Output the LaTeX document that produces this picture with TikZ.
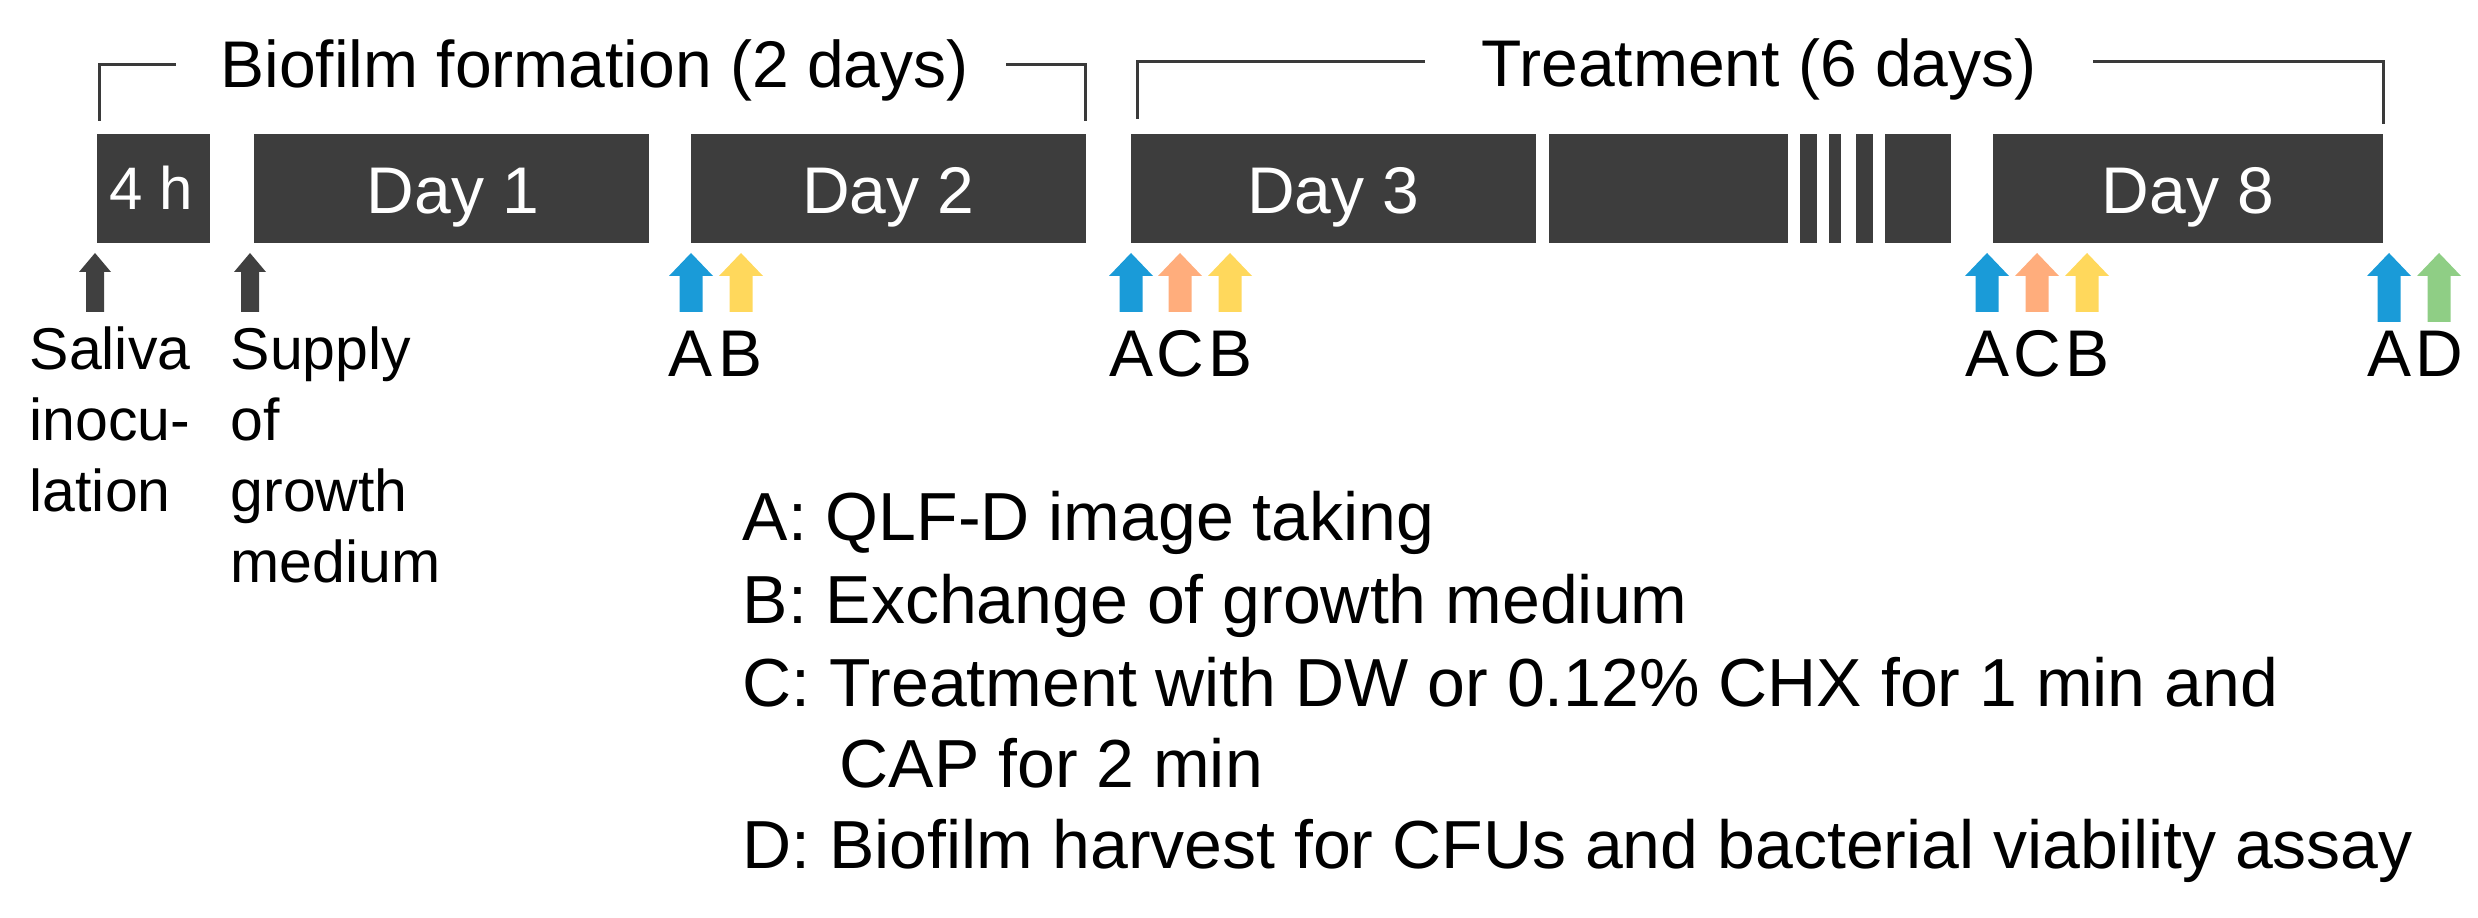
\documentclass[tikz,border=0pt]{standalone}
\usepackage{fontspec}
\setmainfont{Liberation Sans}
\definecolor{boxgray}{HTML}{3D3D3D}
\definecolor{arrgray}{HTML}{404040}
\definecolor{linegray}{HTML}{3A3A3A}
\definecolor{cblue}{HTML}{1A9BD8}
\definecolor{corange}{HTML}{FFAD7C}
\definecolor{cyellow}{HTML}{FFD85C}
\definecolor{cgreen}{HTML}{8FCE85}
\newcommand{\blkarrow}[1]{\fill[arrgray] (#1-9,312) -- (#1-9,272) -- (#1-16,272) -- (#1,253) -- (#1+16,272) -- (#1+9,272) -- (#1+9,312) -- cycle;}
\newcommand{\colarrow}[3]{\fill[#2] (#1-11.5,#3) -- (#1-11.5,276) -- (#1-22,276) -- (#1,253) -- (#1+22,276) -- (#1+11.5,276) -- (#1+11.5,#3) -- cycle;}
\begin{document}
\begin{tikzpicture}[x=0.3pt,y=-0.3pt,
  daybox/.style={fill=boxgray, draw=none, inner sep=0pt, minimum height=32.7pt},
  daylbl/.style={text=white, font=\fontsize{19.8}{24}\selectfont, inner sep=0pt, anchor=base},
  titlelbl/.style={font=\fontsize{19.8}{24}\selectfont, inner sep=0pt, anchor=base},
  evlbl/.style={font=\fontsize{19.8}{24}\selectfont, inner sep=0pt, anchor=base},
  sidelbl/.style={font=\fontsize{17.7}{21}\selectfont, inner sep=0pt, anchor=base west},
  legendlbl/.style={font=\fontsize{20.4}{24}\selectfont, inner sep=0pt, anchor=base west},
  bracket/.style={draw=linegray, line width=0.9pt}]
\useasboundingbox (0,0) rectangle (2478,918);

% brackets
\coordinate (b1a) at (99.5,121);
\coordinate (b1b) at (99.5,65);
\coordinate (b1c) at (176,65);
\coordinate (b1d) at (1006,65);
\coordinate (b1e) at (1085,65);
\coordinate (b1f) at (1085,121);
\draw[bracket] (b1a) -- (b1b) -- (b1c);
\draw[bracket] (b1d) -- (b1e) -- (b1f);
\node[titlelbl] (t1) at (594.5,88) {Biofilm formation (2 days)};
\coordinate (b2a) at (1137,119);
\coordinate (b2b) at (1137,62);
\coordinate (b2c) at (1425,62);
\coordinate (b2d) at (2093,62);
\coordinate (b2e) at (2383,62);
\coordinate (b2f) at (2383,124);
\draw[bracket] (b2a) -- (b2b) -- (b2c);
\draw[bracket] (b2d) -- (b2e) -- (b2f);
\node[titlelbl] (t2) at (1759,87) {Treatment (6 days)};

% boxes
\node[daybox, minimum width=113*0.3pt] (bx4h) at (153.5,188.5) {};
\node[daybox, minimum width=395*0.3pt] (bx1) at (451.5,188.5) {};
\node[daybox, minimum width=395*0.3pt] (bx2) at (888.5,188.5) {};
\node[daybox, minimum width=405*0.3pt] (bx3) at (1333.5,188.5) {};
\node[daybox, minimum width=239*0.3pt] (bxb) at (1668.5,188.5) {};
\node[daybox, minimum width=17*0.3pt] (bxs1) at (1808.5,188.5) {};
\node[daybox, minimum width=12*0.3pt] (bxs2) at (1835,188.5) {};
\node[daybox, minimum width=17*0.3pt] (bxs3) at (1864.5,188.5) {};
\node[daybox, minimum width=66*0.3pt] (bxs4) at (1918,188.5) {};
\node[daybox, minimum width=390*0.3pt] (bx8) at (2188,188.5) {};
\node[daylbl, font=\fontsize{18}{22}\selectfont] (l4h) at (151,210) {4 h};
\node[daylbl] (l1) at (453,214) {Day 1};
\node[daylbl] (l2) at (888.5,214) {Day 2};
\node[daylbl] (l3) at (1333.5,214) {Day 3};
\node[daylbl] (l8) at (2188,214) {Day 8};

% arrows
\blkarrow{95}
\blkarrow{250}
\colarrow{691}{cblue}{312}
\colarrow{741}{cyellow}{312}
\colarrow{1131}{cblue}{312}
\colarrow{1180}{corange}{312}
\colarrow{1230}{cyellow}{312}
\colarrow{1987}{cblue}{312}
\colarrow{2037}{corange}{312}
\colarrow{2087}{cyellow}{312}
\colarrow{2389}{cblue}{322}
\colarrow{2439}{cgreen}{322}

% event letters
\node[evlbl] (e1a) at (691,377) {A};
\node[evlbl] (e1b) at (741,377) {B};
\node[evlbl] (e2a) at (1131,377) {A};
\node[evlbl] (e2c) at (1180,377) {C};
\node[evlbl] (e2b) at (1230,377) {B};
\node[evlbl] (e3a) at (1987,377) {A};
\node[evlbl] (e3c) at (2037,377) {C};
\node[evlbl] (e3b) at (2087,377) {B};
\node[evlbl] (e4a) at (2389,377) {A};
\node[evlbl] (e4d) at (2439,377) {D};

% side labels
\node[sidelbl] (s1) at (29,370) {Saliva};
\node[sidelbl] (s2) at (29,441) {inocu-};
\node[sidelbl] (s3) at (29,512) {lation};
\node[sidelbl] (p1) at (230,370) {Supply};
\node[sidelbl] (p2) at (230,441) {of};
\node[sidelbl] (p3) at (230,512) {growth};
\node[sidelbl] (p4) at (230,583) {medium};

% legend
\node[legendlbl] (ga) at (742,541) {A: QLF-D image taking};
\node[legendlbl] (gb) at (742,624) {B: Exchange of growth medium};
\node[legendlbl] (gc) at (742,707) {C: Treatment with DW or 0.12\% CHX for 1 min and};
\node[legendlbl] (gc2) at (839,788) {CAP for 2 min};
\node[legendlbl] (gd) at (742,869) {D: Biofilm harvest for CFUs and bacterial viability assay};
\end{tikzpicture}
\end{document}
